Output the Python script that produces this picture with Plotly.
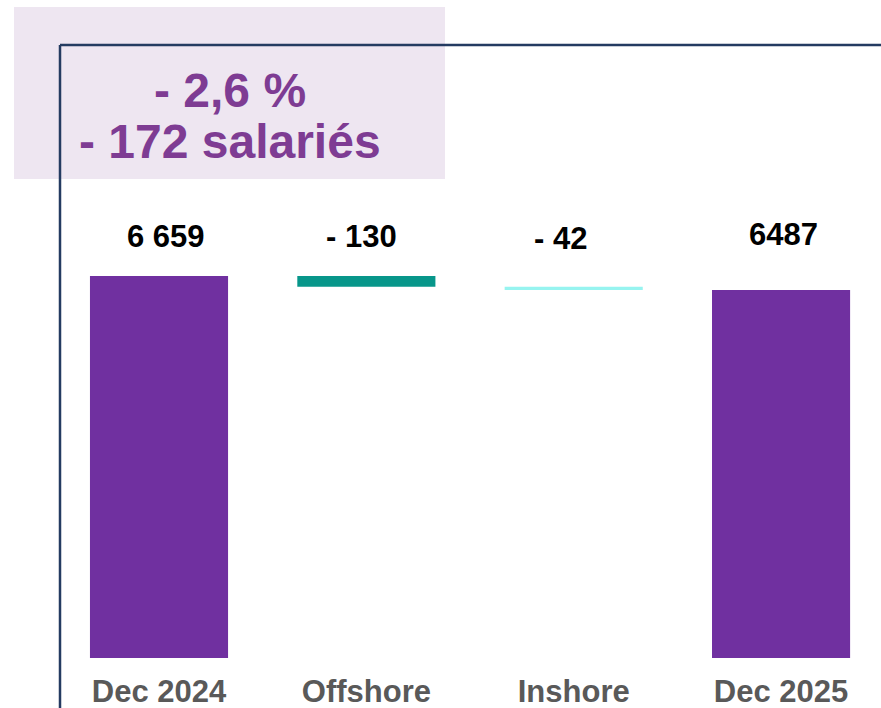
import plotly.graph_objects as go

categories = ["Dec 2024", "Offshore", "Inshore", "Dec 2025"]
start_value = 6659
changes = [-130, -42]
end_value = 6487
value_labels = ["6 659", "- 130", "- 42", "6487"]
summary_lines = ["- 2,6 %", "- 172 salariés"]

# bar geometry from data
bases = [0]
heights = [start_value]
level = start_value
for c in changes:
    level += c
    bases.append(level)
    heights.append(-c)
bases.append(0)
heights.append(end_value)
tops = [b + h for b, h in zip(bases, heights)]

colors = ["#7030A0", "#07968A", "#97F4F0", "#7030A0"]
label_yshift = [20, 20, 29, 36]
label_xshift = [7, -5, -13, 2]

W, H = 881, 708
L, R, T, B = 60, 0, 45, 708 - 658

fig = go.Figure()
fig.add_trace(go.Bar(
    x=categories, y=heights, base=bases,
    marker=dict(color=colors, line=dict(width=0)),
    hoverinfo="skip", showlegend=False,
))

fig.update_layout(
    width=W, height=H,
    margin=dict(l=L, r=R, t=T, b=B, pad=0),
    paper_bgcolor="white", plot_bgcolor="rgba(0,0,0,0)",
    bargap=0.334,
    xaxis=dict(
        type="category", range=[-0.4775, 3.482],
        showgrid=False, zeroline=False, showline=False, ticks="",
        tickfont=dict(family="Liberation Sans", size=31, color="#595959", weight="bold"),
        ticklabelstandoff=12,
    ),
    yaxis=dict(range=[2000, 9476], visible=False, showgrid=False, zeroline=False),
    font=dict(family="Liberation Sans"),
)

# value labels
for cat, top, txt, ys, xs in zip(categories, tops, value_labels, label_yshift, label_xshift):
    fig.add_annotation(
        x=cat, y=top, xref="x", yref="y", text=txt, showarrow=False,
        yanchor="bottom", yshift=ys, xshift=xs,
        font=dict(family="Liberation Sans", size=31, color="black", weight="bold"),
    )

pw = W - L - R
ph = H - T - B
def px(xp):  # figure pixel -> paper
    return (xp - L) / pw
def py(yp):
    return (H - B - yp) / ph

# lavender summary box
fig.add_shape(type="rect", xref="paper", yref="paper",
              x0=px(14), x1=px(445), y0=py(179), y1=py(7),
              fillcolor="#EEE6F1", line=dict(width=0), layer="below")
# frame lines
fig.add_shape(type="line", xref="paper", yref="paper",
              x0=px(60), x1=px(890), y0=py(45), y1=py(45),
              line=dict(color="#243B61", width=2.5), layer="above")
fig.add_shape(type="line", xref="paper", yref="paper",
              x0=px(60), x1=px(60), y0=py(45), y1=py(720),
              line=dict(color="#243B61", width=2.5), layer="above")

for txt, yc in zip(summary_lines, [90, 141]):
    fig.add_annotation(
        x=px(230), y=py(yc), xref="paper", yref="paper", text=txt,
        showarrow=False, xanchor="center", yanchor="middle",
        font=dict(family="Liberation Sans", size=48, color="#7E3C93", weight="bold"),
    )

fig.write_html("out.html", config={"displayModeBar": False},
               post_script="document.body.style.margin='0';document.body.style.overflow='hidden';")
